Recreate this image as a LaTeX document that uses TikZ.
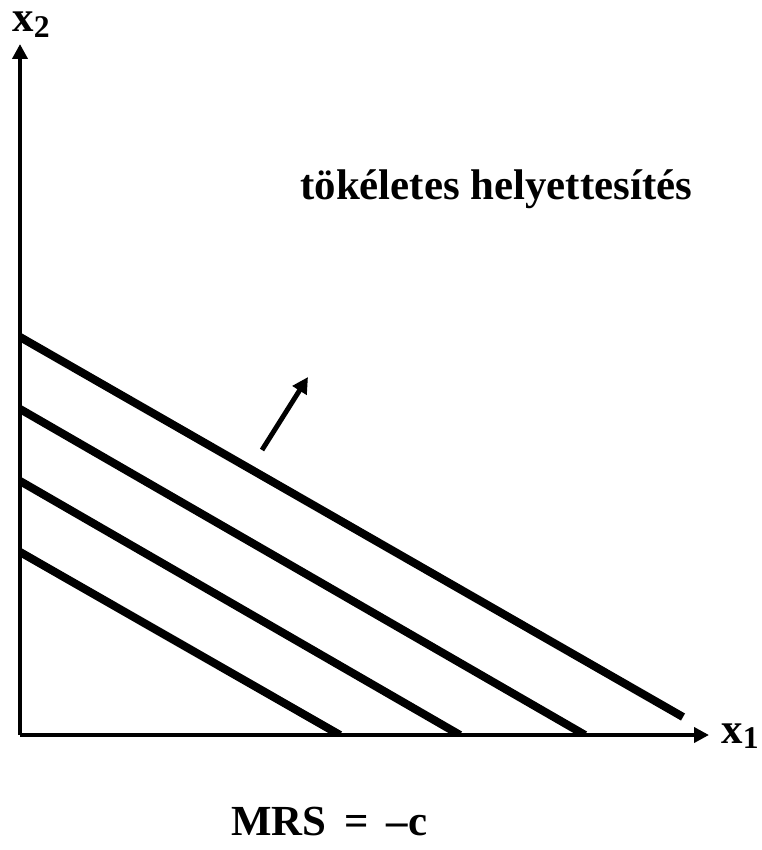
\documentclass[tikz,border=0pt]{standalone}
\usepackage{fontspec}
\setmainfont{Liberation Serif}
\usetikzlibrary{arrows.meta}
\tikzset{
  axis line/.style={
    draw=black, line width=2.3pt, -{Triangle[length=3mm,width=3mm]}
  },
  indiff line/.style={
    draw=black, line width=4.6pt
  },
  shift arrow/.style={
    draw=black, line width=2.8pt, -{Triangle[length=3.2mm,width=3.2mm]}
  },
  big label/.style={
    font=\bfseries\fontsize{24.4}{28}\selectfont, inner sep=0pt, anchor=base west
  }
}
\newcommand{\axsub}[1]{\raisebox{-0.3ex}{\fontsize{18}{18}\selectfont #1}}
\begin{document}
\begin{tikzpicture}[x=0.2mm, y=-0.2mm]
  \useasboundingbox (0,0) rectangle (761,850);

  % ------------------------------------------------
  % tengelyek
  % ------------------------------------------------
  \coordinate (O)    at ( 20,735);
  \coordinate (yTop) at ( 20, 44);
  \coordinate (xEnd) at (709,735);
  \draw[axis line] (O) -- (yTop);
  \draw[axis line] (O) -- (xEnd);
  \node[big label] (x2) at (12,32)  {x\axsub{2}};
  \node[big label] (x1) at (721,743) {x\axsub{1}};

  % ------------------------------------------------
  % közömbösségi görbék (egyenesek)
  % ------------------------------------------------
  \begin{scope}
    \clip (O) rectangle (761,0);
    \coordinate (aL) at (20,552); \coordinate (aR) at (340,735);
    \coordinate (bL) at (20,481); \coordinate (bR) at (460,735);
    \coordinate (cL) at (20,409); \coordinate (cR) at (585,735);
    \coordinate (dL) at (20,337); \coordinate (dR) at (683,717);
    \draw[indiff line] (aL) -- (aR);
    \draw[indiff line] (bL) -- (bR);
    \draw[indiff line] (cL) -- (cR);
    \draw[indiff line] (dL) -- (dR);
  \end{scope}

  % ------------------------------------------------
  % irány nyíl és feliratok
  % ------------------------------------------------
  \coordinate (arrS) at (262,450);
  \coordinate (arrE) at (308,377);
  \draw[shift arrow] (arrS) -- (arrE);
  \node[big label] (title) at (300,200) {tökéletes helyettesítés};
  \node[big label] (mrs)   at (231,835) {MRS \,=\, --c};
\end{tikzpicture}
\end{document}
